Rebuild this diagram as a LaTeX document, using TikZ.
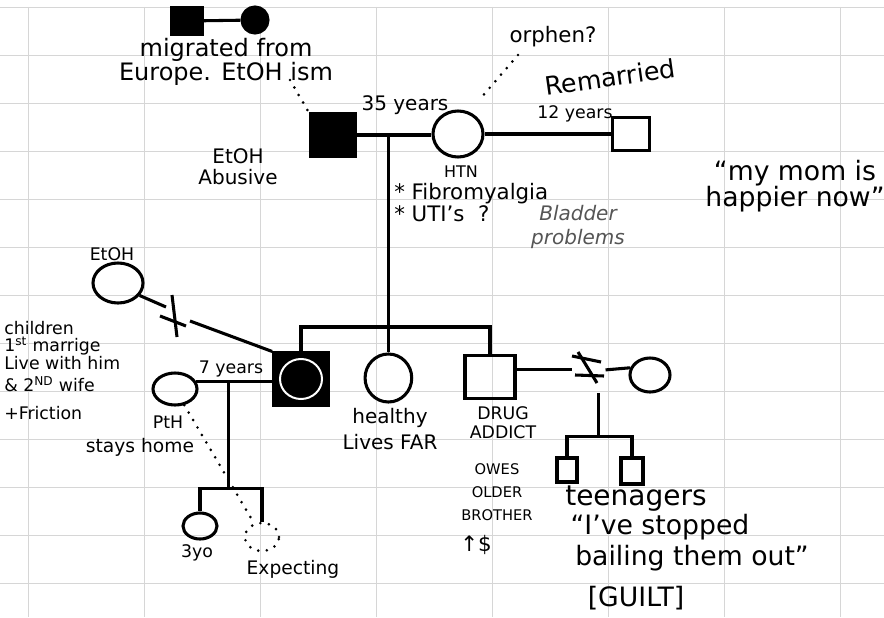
\documentclass[tikz,border=0pt]{standalone}
\usepackage{fontspec}
\setmainfont{DejaVu Sans}
\usetikzlibrary{shapes.geometric, calc, positioning}
\definecolor{gridgray}{RGB}{214, 214, 214}
\definecolor{inkgray}{RGB}{85, 85, 85}
\tikzset{
    male/.style={draw, rectangle, line width=2.3pt, inner sep=0pt},
    female/.style={draw, ellipse, line width=2.3pt, inner sep=0pt},
    affected/.style={fill=black},
    tie/.style={line width=2.3pt},
    dots/.style={line width=2.2pt, line cap=round, dash pattern=on 0pt off 6.5pt},
    hand/.style={font=\fontsize{#1}{#1}\selectfont, inner sep=0pt, align=center},
    handit/.style={font=\fontsize{#1}{#1}\selectfont\itshape, inner sep=0pt, align=center},
    gridline/.style={draw=gridgray, line width=0.7pt},
}

\begin{document}
\begin{tikzpicture}[x=0.75pt, y=-0.75pt]
            \useasboundingbox (0,0) rectangle (884,617);
            % Paper grid
            \foreach \gx in {28,144,...,840} \draw[gridline] (\gx,7) -- (\gx,617);
            \foreach \gy in {7,55,...,583} \draw[gridline] (0,\gy) -- (884,\gy);

            % Grandparents
            \node[male, affected, minimum width=22.5pt, minimum height=19.5pt] (gpa) at (187,21) {};
            \node[female, affected, minimum width=19.5pt, minimum height=19.5pt] (gma) at (255,20) {};
            \draw[tie] (gpa) -- (gma);
            \node[hand=18] (migr) at (226,62) {migrated from\\Europe. EtOH ism};

            % Parents
            \node[male, affected, minimum width=34pt, minimum height=31.5pt] (dad) at (333,135) {};
            \node[female, minimum width=37.5pt, minimum height=34.5pt] (mom) at (458,134) {};
            \draw[tie] (dad.east) -- (dad.east -| mom.west);
            \coordinate (pline) at ($(dad.east)!0.42!(dad.east -| mom.west)$);
            \node[hand=15] (yrs35) at (405,105) {35 years};
            \node[hand=15] (abuse) at (238,167) {EtOH\\[1pt]Abusive};
            \coordinate (ismdot) at (290,80);
            \draw[dots] (ismdot) -- (dad.north west);

            % Mother remarried
            \node[male, minimum width=27.75pt, minimum height=24.75pt] (stepdad) at (631,134) {};
            \draw[tie] (mom.east) -- (mom.east -| stepdad.west);
            \node[hand=19, rotate=8] (remar) at (610,77) {Remarried};
            \node[hand=13] (yrs12) at (575,114) {12 years};
            \node[hand=16] (orphan) at (553,37) {orphen?};
            \coordinate (orphdot) at (518,55);
            \coordinate (momdot) at (480,99);
            \draw[dots] (orphdot) -- (momdot);

            % Mother's health
            \node[hand=12] (htn) at (461,172) {HTN};
            \node[hand=16, anchor=west] (fibro) at (394,194) {* Fibromyalgia};
            \node[hand=16, anchor=west] (uti) at (394,214) {* UTI's \ ?};
            \node[handit=15, text=inkgray] (bladder) at (578,227) {Bladder\\[3pt]problems};
            \node[hand=20] (happy) at (795,186) {“my mom is\\happier now”};

            % First marriage
            \node[female, minimum width=37.5pt, minimum height=30pt] (exwife) at (118,283) {};
            \node[hand=13] (etoh2) at (112,254) {EtOH};
            \node[male, affected, minimum width=41pt, minimum height=39pt] (ip) at (301,379) {};
            \node[draw=white, ellipse, line width=1.5pt, fill=black, inner sep=0pt,
                  minimum width=31.5pt, minimum height=30pt] (ipring) at (ip) {};
            \coordinate (cut1a) at (166,307);
            \coordinate (cut1b) at (190,321);
            \draw[tie] (exwife.-30) -- (cut1a);
            \draw[tie] (cut1b) -- (ip.north west);
            \draw[tie] (160,316) -- (186,326);
            \draw[tie] (172,295) -- (177,337);
            \node[hand=13, align=left, anchor=north west] (kids1) at (4,321)
                {children\\1\textsuperscript{st} marrige\\Live with him\\[4pt]\& 2\textsuperscript{ND} wife\\[8pt]+Friction};

            % Second marriage
            \node[female, minimum width=33pt, minimum height=24pt] (wife2) at (175,389) {};
            \draw[tie] (wife2.20) -- (wife2.20 -| ip.west);
            \coordinate (m2) at ($(wife2.20)!0.42!(wife2.20 -| ip.west)$);
            \coordinate (kids2) at ($(m2)+(0,107)$);
            \node[hand=13] (yrs7) at (231,369) {7 years};
            \node[hand=13] (pth) at (168,422) {PtH};
            \node[hand=14] (stays) at (140,447) {stays home};
            \node[female, minimum width=25.5pt, minimum height=19.5pt] (child1) at (200,526) {};
            \node[draw, ellipse, dots, inner sep=0pt, minimum width=25.5pt, minimum height=21pt] (child2) at (262,537) {};
            \draw[tie] (m2) -- (kids2);
            \draw[tie] (child1.north) |- (kids2) -| (child2.north);
            \draw[dots] (wife2.-60) -- (child2.120);
            \node[hand=13] (yo3) at (197,553) {3yo};
            \node[hand=14] (expect) at (293,569) {Expecting};

            % Siblings
            \coordinate (sibl) at ($(pline)+(0,192)$);
            \draw[tie] (pline) -- (sibl);
            \node[female, minimum width=35pt, minimum height=36pt] (sister) at ($(sibl)+(0,51)$) {};
            \node[male, minimum width=37.5pt, minimum height=32pt] (brother) at (490,377) {};
            \draw[tie] (ip.north) |- (sibl) -| (brother.north);
            \draw[tie] (sibl) -- (sister.north);
            \node[hand=15] (healthy) at (390,429) {healthy\\[5pt]Lives FAR};
            \node[hand=13] (drug) at (503,423) {DRUG\\[1.5pt]ADDICT};
            \node[hand=11] (owes) at (497,492) {OWES\\[6pt]OLDER\\[6pt]BROTHER};
            \node[hand=16] (money) at (476,545) {↑\$};

            % Brother's divorce
            \node[female, minimum width=30pt, minimum height=25.5pt] (bwife) at (650,375) {};
            \coordinate (cut2a) at ($(brother.15)+(55,0)$);
            \coordinate (cut2b) at ($(cut2a)+(34,0)$);
            \draw[tie] (brother.15) -- (cut2a);
            \draw[tie] (cut2b) -- (bwife.160);
            \draw[tie] (572,356) -- (601,362);
            \draw[tie] (575,375) -- (604,376);
            \draw[tie] (578,352) -- (597,383);

            % Teenagers
            \coordinate (bkid) at ($(cut2b)+(-7,23)$);
            \coordinate (tk) at ($(bkid)+(0,44)$);
            \draw[tie] (bkid) -- (tk);
            \node[male, minimum width=15pt, minimum height=18pt] (teen1) at (567,470) {};
            \node[male, minimum width=16.5pt, minimum height=19.5pt] (teen2) at (632,471) {};
            \draw[tie] (teen1.north) |- (tk) -| (teen2.north);
            \node[hand=21] (teens) at (636,499) {teenagers};
            \node[hand=20] (stopped) at (660,527) {“I've stopped};
            \node[hand=20] (bailing) at (692,558) {bailing them out”};
            \node[hand=20] (guilt) at (636,598) {[GUILT]};
\end{tikzpicture}
\end{document}
